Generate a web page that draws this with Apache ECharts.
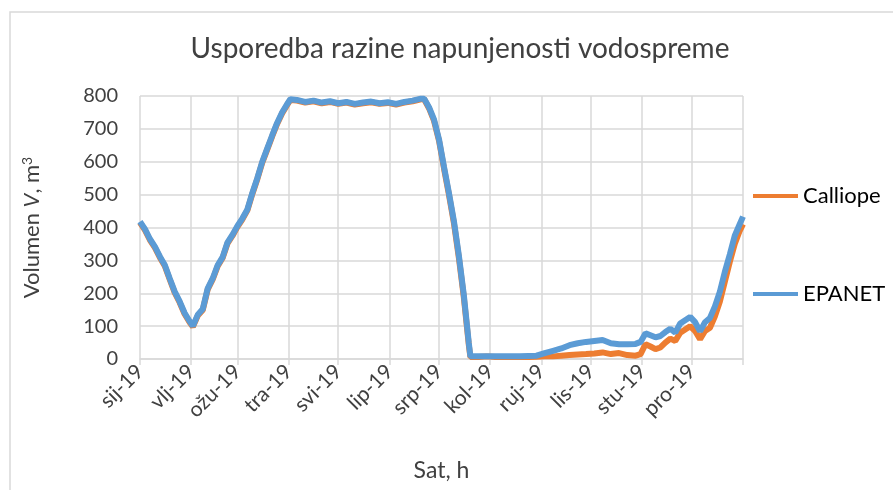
<!DOCTYPE html>
<html lang="hr">
<head>
    <meta charset="UTF-8">
    <title>Usporedba razine napunjenosti vodospreme</title>
    <script src="https://cdn.jsdelivr.net/npm/echarts@6/dist/echarts.min.js"></script>
    <style>
        html, body { margin: 0; padding: 0; background: #fff; }
    </style>
</head>
<body>
<div id="main" style="width: 893px;height: 490px;"></div>
<script>
    // mjeseci - dan u godini na kojem pocinje
    var monthDays = [0, 31, 59, 90, 120, 151, 181, 212, 243, 273, 304, 334]
    var monthLabels = ['sij-19', 'vlj-19', 'ožu-19', 'tra-19', 'svi-19', 'lip-19',
        'srp-19', 'kol-19', 'ruj-19', 'lis-19', 'stu-19', 'pro-19']
    var tickDays = monthDays.concat([365])

    // dani na kojima su ocitane vrijednosti
    var days = [0, 3, 6, 9, 12, 15, 18, 21, 24, 27, 30, 32, 35, 38, 41, 44, 47, 50, 53, 56,
        59, 62, 65, 68, 71, 74, 77, 80, 83, 86, 89, 91, 95, 100, 105, 110, 115, 120, 125, 130,
        135, 140, 145, 150, 155, 160, 165, 170, 172, 175, 178, 181, 184, 187, 190, 193, 196, 199, 200, 205,
        210, 215, 220, 225, 230, 235, 240, 245, 250, 255, 260, 265, 270, 275, 280, 285, 290, 295, 300, 303,
        306, 309, 312, 315, 318, 321, 324, 327, 330, 333, 336, 339, 342, 345, 348, 351, 354, 357, 360, 363, 365]

    var epanet = [418, 395, 365, 342, 312, 286, 245, 205, 175, 140, 115, 100, 135, 152, 215, 245, 285, 310, 355, 378,
        405, 428, 455, 505, 550, 600, 640, 680, 718, 750, 775, 790, 788, 782, 786, 780, 784, 778, 782, 776,
        780, 783, 778, 781, 776, 782, 786, 792, 792, 765, 728, 668, 585, 505, 420, 315, 195, 50, 8, 8,
        8, 8, 8, 8, 8, 9, 10, 18, 25, 32, 42, 48, 52, 55, 58, 48, 45, 45, 46, 52,
        78, 72, 66, 70, 82, 92, 80, 108, 118, 128, 112, 84, 112, 125, 160, 205, 265, 318, 375, 410, 433]

    var calliope = [415, 392, 362, 339, 309, 283, 242, 202, 172, 137, 112, 98, 132, 149, 212, 242, 282, 307, 352, 375,
        402, 425, 452, 502, 547, 597, 637, 677, 715, 747, 772, 788, 786, 780, 784, 778, 782, 776, 780, 774,
        778, 781, 776, 779, 774, 780, 784, 790, 790, 762, 724, 664, 580, 500, 414, 308, 188, 44, 6, 6,
        8, 6, 6, 6, 6, 6, 7, 8, 8, 10, 12, 14, 15, 17, 20, 15, 18, 12, 10, 15,
        45, 38, 30, 35, 50, 62, 55, 80, 90, 100, 85, 60, 85, 95, 130, 175, 235, 295, 350, 390, 410]

    var gridColor = '#d9d9d9'
    var textColor = '#404040'
    var font = 'Lato'

    function pairs(vals) {
        return days.map(function (d, i) { return [d, vals[i]] })
    }

    var myChart = echarts.init(document.getElementById('main'))
    var option = {
        animation: false,
        textStyle: { fontFamily: font },
        title: {
            text: 'Usporedba razine napunjenosti vodospreme',
            left: 455,
            textAlign: 'center',
            top: 30,
            textStyle: { fontFamily: font, fontSize: 28, fontWeight: 'normal', color: textColor }
        },
        graphic: [{
            type: 'rect',
            z: -10,
            shape: { x: 10, y: 12, width: 1000, height: 1000 },
            style: { fill: 'none', stroke: gridColor, lineWidth: 1.5 }
        }],
        legend: {
            orient: 'vertical',
            left: 748,
            top: 180,
            itemGap: 76,
            icon: 'rect',
            itemWidth: 45,
            itemHeight: 4,
            textStyle: { fontFamily: font, fontSize: 22, color: '#000' },
            data: ['Calliope', 'EPANET']
        },
        grid: { left: 140, right: 150, top: 96, bottom: 131 },
        xAxis: {
            type: 'value',
            min: 0,
            max: 365,
            name: 'Sat, h',
            nameLocation: 'middle',
            nameGap: 100,
            nameTextStyle: { fontFamily: font, fontSize: 23, color: textColor },
            axisLine: { show: true, lineStyle: { color: gridColor, width: 1.5 } },
            axisTick: { show: true, customValues: tickDays, length: 6, lineStyle: { color: gridColor, width: 1.5 } },
            axisLabel: {
                customValues: monthDays,
                rotate: 45,
                margin: 9,
                fontFamily: font,
                fontSize: 21,
                color: textColor,
                formatter: function (v) {
                    var i = monthDays.indexOf(v)
                    return i >= 0 ? monthLabels[i] : ''
                }
            },
            splitLine: { show: true, lineStyle: { color: gridColor, width: 1.5 } }
        },
        yAxis: {
            type: 'value',
            min: 0,
            max: 800,
            interval: 100,
            name: '{a|Volumen }{i|V}{a|, m}{s|3}',
            nameLocation: 'middle',
            nameGap: 96,
            nameTextStyle: {
                rich: {
                    a: { fontFamily: font, fontSize: 22, color: textColor },
                    i: { fontFamily: font, fontSize: 22, color: textColor, fontStyle: 'italic' },
                    s: { fontFamily: font, fontSize: 14, color: textColor, padding: [0, 0, 10, 0] }
                }
            },
            axisLine: { show: false },
            axisTick: { show: false },
            axisLabel: { fontFamily: font, fontSize: 20, color: textColor, margin: 22 },
            splitLine: { show: true, lineStyle: { color: gridColor, width: 1.5 } }
        },
        series: [
            {
                name: 'Calliope',
                type: 'line',
                symbol: 'none',
                color: '#ed7d31',
                lineStyle: { width: 6, color: '#ed7d31' },
                data: pairs(calliope)
            },
            {
                name: 'EPANET',
                type: 'line',
                symbol: 'none',
                color: '#5b9bd5',
                lineStyle: { width: 6, color: '#5b9bd5' },
                data: pairs(epanet)
            }
        ]
    }
    myChart.setOption(option)
</script>
</body>
</html>
